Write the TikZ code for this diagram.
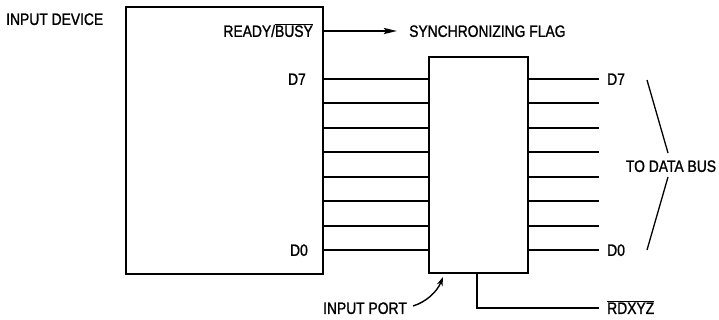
\documentclass[tikz,border=0pt]{standalone}
\usepackage{fontspec}
\setmainfont{Liberation Sans}[FakeStretch=0.84, FakeBold=1.2]
\usetikzlibrary{arrows.meta}
\newcommand\ovl[1]{\ensuremath{\overline{\mbox{#1}}}}
\begin{document}
\begin{tikzpicture}[x=1pt,y=-1pt,
  box/.style={draw, line width=2.6pt, inner sep=0pt},
  wire/.style={line width=2pt},
  lbl/.style={inner sep=0pt, font=\fontsize{16.5}{18}\selectfont, text height=11.8pt, text depth=0pt},
  tip/.style={-{Stealth[length=13pt,width=6pt,inset=2pt]}}]
\useasboundingbox (0,0) rectangle (719,320);
% boxes
\node[box, minimum width=197pt, minimum height=267pt] (dev) at (224.5,140.5) {};
\node[box, minimum width=99pt, minimum height=216pt] (port) at (478.5,165) {};
% titles
\node[lbl, anchor=west] (devt) at (6,19) {INPUT DEVICE};
\node[lbl, anchor=east] (rdy) at (313,31) {READY/\ovl{BUSY}};
\node[lbl, anchor=east] (d7l) at (306,79) {D7};
\node[lbl, anchor=east] (d0l) at (308,250) {D0};
\node[lbl, anchor=west] (sync) at (409,31) {SYNCHRONIZING FLAG};
% ready arrow
\coordinate (rdyend) at (397,31);
\draw[wire, tip] (dev.east |- rdyend) -- (rdyend);
% data lines
\foreach \i in {0,...,7} {
  \coordinate (y\i) at (0,{79+24.43*\i});
  \coordinate (r\i) at (599,{79+24.43*\i});
  \draw[wire] (dev.east |- y\i) -- (port.west |- y\i);
  \draw[wire] (port.east |- y\i) -- (r\i);
}
\node[lbl, anchor=west] (d7r) at (607,79) {D7};
\node[lbl, anchor=west] (d0r) at (607,250) {D0};
% brace
\coordinate (b1) at (647,80);
\coordinate (b2) at (668,153);
\coordinate (b3) at (668,177);
\coordinate (b4) at (647,250);
\draw[line width=1.3pt] (b1) -- (b2);
\draw[line width=1.3pt] (b3) -- (b4);
\node[lbl] (bus) at (671,166) {TO DATA BUS};
% RD line
\coordinate (rdx) at (477,0);
\coordinate (rdend) at (599,308);
\draw[wire] (port.south -| rdx) |- (rdend);
\node[lbl, anchor=west] (rdl) at (607,308) {\ovl{RDXYZ}};
% input port label
\node[lbl, anchor=east] (pl) at (407,308) {INPUT PORT};
\coordinate (ptip) at (443,277);
\draw[line width=1.4pt, -{Stealth[length=9pt,width=6pt]}] (pl.east) ++(6,-2) .. controls (426,302) and (437,292) .. (ptip);
\end{tikzpicture}
\end{document}
